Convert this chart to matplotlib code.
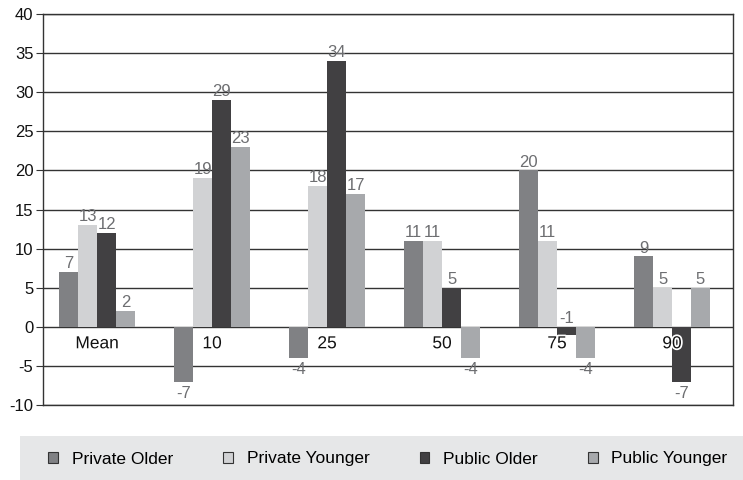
import numpy as np
import matplotlib
matplotlib.use('Agg')
import matplotlib.pyplot as plt
import matplotlib.patheffects as pe
from matplotlib.patches import Patch, Rectangle

plt.rcParams['font.family'] = ['Liberation Sans', 'DejaVu Sans']
plt.rcParams['axes.unicode_minus'] = False

groups = ['Mean', '10', '25', '50', '75', '90']
series_names = ['Private Older', 'Private Younger', 'Public Older', 'Public Younger']
private_older = [7, -7, -4, 11, 20, 9]
private_younger = [13, 19, 18, 11, 11, 5]
public_older = [12, 29, 34, 5, -1, -7]
public_younger = [2, 23, 17, -4, -4, 5]
colors = ['#808184', '#d1d2d4', '#414042', '#a7a9ac']

fig = plt.figure(figsize=(7.43, 4.80), dpi=100)
ax = fig.add_axes([0.058, 0.156, 0.9285, 0.815])

x = np.arange(len(groups))
width = 0.165
all_series = [private_older, private_younger, public_older, public_younger]
for k, (vals, col) in enumerate(zip(all_series, colors)):
    pos = x - 0.03 + (k - 1.5) * width
    ax.bar(pos, vals, width, color=col, zorder=3)
    for p, v in zip(pos, vals):
        if v >= 0:
            ax.text(p, v + 0.1, str(v), ha='center', va='bottom',
                    fontsize=12, color='#6d6e71', zorder=5)
        elif v > -2:
            # tiny negative bar: label goes above the zero line
            ax.text(p, 0.1, str(v), ha='center', va='bottom',
                    fontsize=12, color='#6d6e71', zorder=5)
        else:
            ax.text(p, v - 0.5, str(v), ha='center', va='top',
                    fontsize=12, color='#6d6e71', zorder=5)

# category names sit just under the zero line, with a white halo
for i, g in enumerate(groups):
    ax.text(i - 0.03, -1.2, g, ha='center', va='top', fontsize=12.5,
            color='#111111', zorder=6,
            path_effects=[pe.withStroke(linewidth=2.5, foreground='white')])

ax.set_xlim(-0.5, len(groups) - 0.5)
ax.set_ylim(-10, 40)
ax.set_yticks(range(-10, 41, 5))
ax.set_xticks([])
ax.yaxis.grid(True, color='#333333', linewidth=1.0, zorder=0)
ax.set_axisbelow(True)
for s in ax.spines.values():
    s.set_color('#333333')
    s.set_linewidth(1.0)
ax.tick_params(axis='y', labelsize=12, length=5, color='#333333',
               labelcolor='#111111', pad=2)

# legend band along the bottom
fig.patches.append(Rectangle((20 / 743, 0), 1 - 20 / 743, 44 / 480,
                             transform=fig.transFigure, facecolor='#e6e7e8',
                             edgecolor='none', zorder=0))
handles = [Patch(facecolor=c, edgecolor='#333333', linewidth=0.8) for c in colors]
fig.legend(handles, series_names, loc='center', ncol=4,
           bbox_to_anchor=(0.522, 21 / 480), frameon=False, fontsize=12.5,
           handlelength=0.55, handleheight=0.55, handletextpad=0.8,
           columnspacing=2.9)

fig.savefig('out.png', dpi=100)
